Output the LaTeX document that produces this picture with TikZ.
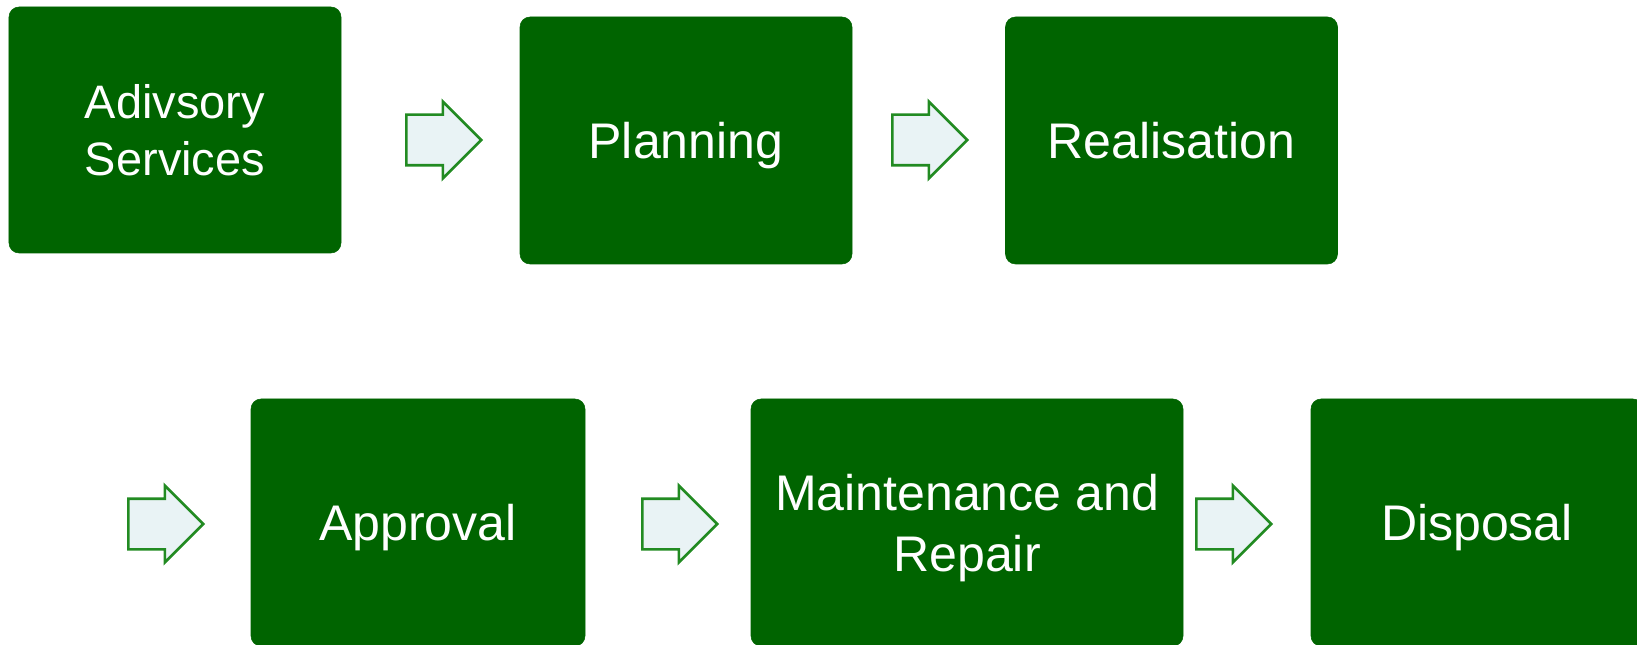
\documentclass[tikz,border=0pt]{standalone}
\usepackage{fontspec}
\setmainfont{Liberation Sans}
\usetikzlibrary{shapes.arrows}
\begin{document}
\begin{tikzpicture}[
  stagebox/.style={shape=rectangle,rounded corners=0.25cm,fill=stage_bg,draw=stage_bg,text=white,align=center,text depth=0pt,minimum height=6.175cm,font=\fontsize{35.6}{43.4}\selectfont},
  flowarrow/.style={shape=single arrow,anchor=tail,draw=arrow_line,fill=arrow_bg,line width=1.8pt,inner xsep=0pt,inner ysep=0.6cm,minimum height=1.875cm,single arrow head extend=0.33cm,single arrow tip angle=90}]
\definecolor{stage_bg}{RGB}{0,100,0}
\definecolor{arrow_line}{RGB}{34,139,34}
\definecolor{arrow_bg}{RGB}{233,243,245}
\useasboundingbox (0,0) rectangle (40.925,16.1);
% top row
\node[stagebox,minimum width=8.3cm,minimum height=6.15cm,font=\fontsize{33.4}{41}\selectfont] (adv) at (4.375,12.85) {Adivsory\\Services};
\node[stagebox,minimum width=8.3cm] (plan) at (17.15,12.5875) {Planning};
\node[stagebox,minimum width=8.3cm] (real) at (29.2875,12.5875) {Realisation};
\node[flowarrow] (a1) at (10.125,12.6) {};
\node[flowarrow] (a2) at (22.275,12.6) {};
% bottom row
\node[stagebox,minimum width=8.35cm] (appr) at (10.45,3.0375) {Approval};
\node[stagebox,minimum width=10.8cm] (maint) at (24.175,3.0375) {Maintenance and\\Repair};
\node[stagebox,minimum width=8.3cm] (disp) at (36.925,3.0375) {Disposal};
\node[flowarrow] (a3) at (3.175,3.0) {};
\node[flowarrow] (a4) at (16.025,3.0) {};
\node[flowarrow] (a5) at (29.875,3.0) {};
\end{tikzpicture}
\end{document}
